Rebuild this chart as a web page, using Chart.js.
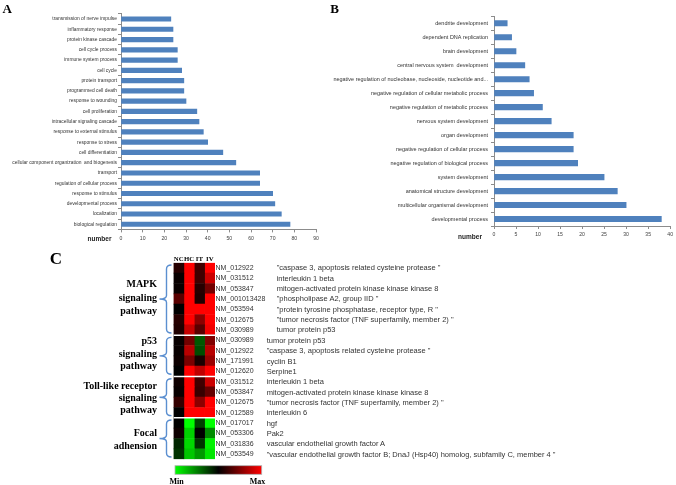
<!DOCTYPE html>
<html><head><meta charset="utf-8">
<script src="https://cdn.jsdelivr.net/npm/chart.js@4.4.1/dist/chart.umd.min.js"></script>
<style>
html,body{margin:0;padding:0;background:#fff;}
#wrap{position:relative;width:676px;height:485px;overflow:hidden;background:#fff;}
canvas{position:absolute;}
.t{position:absolute;white-space:nowrap;}
</style></head><body>
<div id="wrap">
<canvas id="cA" width="330" height="250" style="left:0;top:0"></canvas>
<canvas id="cB" width="346" height="250" style="left:330px;top:0"></canvas>
<canvas id="cC" width="676" height="235" style="left:0;top:250px"></canvas>
</div>
<script>
// ---------- DATA ----------
const catsA = ['transmission of nerve impulse','inflammatory response','protein kinase cascade','cell cycle process','immune system process','cell cycle','protein transport','programmed cell death','response to wounding','cell proliferation','intracellular signaling cascade','response to external stimulus','response to stress','cell differentiation','cellular component organization  and biogenesis','transport','regulation of cellular process','response to stimulus','developmental process','localization','biological regulation'];
const valsA = [23,24,24,26,26,28,29,29,30,35,36,38,40,47,53,64,64,70,71,74,78];
const ticksA = [0,10,20,30,40,50,60,70,80,90];

const catsB = ['dendrite development','dependent DNA replication','brain development','central nervous system  development','negative regulation of nucleobase, nucleoside, nucleotide and...','negative regulation of cellular metabolic process','negative regulation of metabolic process','nervous system development','organ development','negative regulation of cellular process','negative regulation of biological process','system development','anatomical structure development','multicellular organismal development','developmental process'];
const valsB = [3,4,5,7,8,9,11,13,18,18,19,25,28,30,38];
const ticksB = [0,5,10,15,20,25,30,35,40];

const heatCols = ['NC','HC','IT','IV'];
const geneIds = ['NM_012922','NM_031512','NM_053847','NM_001013428','NM_053594','NM_012675','NM_030989',
  'NM_030989','NM_012922','NM_171991','NM_012620',
  'NM_031512','NM_053847','NM_012675','NM_012589',
  'NM_017017','NM_053306','NM_031836','NM_053549'];
const geneDesc = ['"caspase 3, apoptosis related cysteine protease "','interleukin 1 beta','mitogen-activated protein kinase kinase kinase 8','"phospholipase A2, group IID "','"protein tyrosine phosphatase, receptor type, R "','"tumor necrosis factor (TNF superfamily, member 2) "','tumor protein p53',
  'tumor protein p53','"caspase 3, apoptosis related cysteine protease "','cyclin B1','Serpine1',
  'interleukin 1 beta','mitogen-activated protein kinase kinase kinase 8','"tumor necrosis factor (TNF superfamily, member 2) "','interleukin 6',
  'hgf','Pak2','vascular endothelial growth factor A','"vascular endothelial growth factor B; DnaJ (Hsp40) homolog, subfamily C, member 4 "'];
const groupNames = [['MAPK','signaling','pathway'],['p53','signaling','pathway'],['Toll-like receptor','signaling','pathway'],['Focal','adhension']];
const groupSizes = [7,4,4,4];
const heatNC = [0.15,0.03,0.03,0.35,0.0,0.15,0.12, 0.03,0.03,0.05,0.0, 0.06,0.03,0.2,0.0, 0.0,0.05,-0.15,-0.2];
const heatHC = [1,1,1,1,1,1,0.78, 0.45,0.72,0.48,1, 1,1,1,1, -1,-0.82,-0.85,-0.78];
const heatIT = [0.25,0.25,0.15,0.12,1,0.55,0.35, -0.35,-0.3,0.1,0.75, 0.25,0.22,0.55,1, -0.25,0.0,-0.2,-0.6];
const heatIV = [1,0.8,0.45,1,1,1,0.95, 0.5,0.72,0.6,1, 0.8,0.4,1,1, -1,-0.55,-0.95,-0.9];

// ---------- helpers ----------
const FAM = '"Liberation Sans Narrow", "Liberation Sans", Arial, sans-serif';
const mctx = document.createElement('canvas').getContext('2d');
function fitSize(text, target, fam, weight){
  mctx.font = (weight||'normal') + ' 100px ' + fam;
  return 100 * target / mctx.measureText(text).width;
}
const wrap = document.getElementById('wrap');
function addText(txt, x, y, o){
  const d = document.createElement('div');
  d.className = 't';
  d.textContent = txt;
  const size = o.size;
  d.style.font = (o.weight||'normal') + ' ' + size + 'px ' + o.fam;
  d.style.lineHeight = (size*1.2) + 'px';
  d.style.height = (size*1.2) + 'px';
  d.style.top = (y - size*0.6) + 'px';
  d.style.color = o.color || '#000';
  if (o.align === 'right') { d.style.right = (676 - x) + 'px'; d.style.textAlign = 'right'; }
  else if (o.align === 'center') { d.style.left = (x - 200) + 'px'; d.style.width = '400px'; d.style.textAlign = 'center'; }
  else d.style.left = x + 'px';
  wrap.appendChild(d);
  return d;
}
const SERIF = '"Liberation Serif","Times New Roman",serif';
const SANS = '"Liberation Sans", Arial, sans-serif';

const sizeA = fitSize(catsA[14], 105, FAM);
const sizeB = fitSize(catsB[4], 155, FAM);
const tickSizeA = fitSize('10', 5.7, FAM);

function barChart(id, cats, vals, ticks, cfg){
  return new Chart(document.getElementById(id), {
    type: 'bar',
    data: { labels: cats, datasets: [{ data: vals, backgroundColor: '#4f81bd', borderWidth: 0, barThickness: cfg.thick }] },
    options: {
      indexAxis: 'y', responsive: false, animation: false, events: [],
      plugins: { legend: { display: false }, tooltip: { enabled: false } },
      layout: { padding: { top: cfg.top, right: cfg.right, left: 0, bottom: 0 } },
      scales: {
        x: { type: 'linear', min: ticks[0], max: ticks[ticks.length-1],
             afterBuildTicks: s => { s.ticks = ticks.map(v => ({ value: v })); },
             ticks: { padding: cfg.tpad, font: { family: FAM, size: tickSizeA }, color: '#404040', maxRotation: 0, autoSkip: false },
             grid: { drawOnChartArea: false, tickLength: 3, color: '#8c8c8c' },
             border: { color: '#8c8c8c' },
             afterFit: s => { s.height = cfg.xh; } },
        y: { ticks: { autoSkip: false, padding: cfg.lpad, font: { family: FAM, size: cfg.lsize }, color: '#333' },
             grid: { drawOnChartArea: false, tickLength: 3, color: '#8c8c8c' },
             border: { color: '#8c8c8c' },
             afterFit: s => { s.width = cfg.yw; } }
      }
    }
  });
}

barChart('cA', catsA, valsA, ticksA, { thick: 4.5, top: 13.9, right: 14, xh: 20.6, yw: 121, tpad: 3.5, lpad: 1, lsize: sizeA });
barChart('cB', catsB, valsB, ticksB, { thick: 5.5, top: 16.3, right: 5.3, xh: 24, yw: 164, tpad: 3, lpad: 3, lsize: sizeB });

// ---------- heatmap ----------
function heat(v){
  return v >= 0 ? 'rgb(' + Math.round(255*v) + ',0,0)' : 'rgb(0,' + Math.round(-255*v) + ',0)';
}
const heatVals = [heatNC, heatHC, heatIT, heatIV];

const decoPlugin = {
  id: 'deco',
  afterDraw(chart){
    const ctx = chart.ctx, y = chart.scales.y, ca = chart.chartArea;
    const half = Math.abs(y.getPixelForValue(1) - y.getPixelForValue(0)) / 2;
    ctx.save();
    ctx.strokeStyle = '#ffffff'; ctx.lineWidth = 1.5;
    let idx = 0;
    groupSizes.forEach((n, g) => {
      const top = y.getPixelForValue(idx) - half;
      if (g > 0) { ctx.beginPath(); ctx.moveTo(ca.left, top); ctx.lineTo(ca.right, top); ctx.stroke(); }
      idx += n;
    });
    ctx.strokeStyle = '#5b8fd0'; ctx.lineWidth = 1.4;
    idx = 0;
    const xv = 166.5, xs = 171.5, xt = 159.5;
    groupSizes.forEach(n => {
      const t = y.getPixelForValue(idx) - half + 2.2, b = y.getPixelForValue(idx + n - 1) + half - 2.2, m = (t + b) / 2;
      ctx.beginPath();
      ctx.moveTo(xs, t);
      ctx.quadraticCurveTo(xv, t, xv, t + 4);
      ctx.lineTo(xv, m - 3.5);
      ctx.quadraticCurveTo(xv, m, xt, m);
      ctx.quadraticCurveTo(xv, m, xv, m + 3.5);
      ctx.lineTo(xv, b - 4);
      ctx.quadraticCurveTo(xv, b, xs, b);
      ctx.stroke();
      idx += n;
    });
    const gx0 = 175, gx1 = 261.7, gy0 = 215.7, gy1 = 224.3;
    const gr = ctx.createLinearGradient(gx0, 0, gx1, 0);
    gr.addColorStop(0, '#00ff00'); gr.addColorStop(0.5, '#000000'); gr.addColorStop(1, '#ff0000');
    ctx.fillStyle = gr; ctx.fillRect(gx0, gy0, gx1 - gx0, gy1 - gy0);
    ctx.strokeStyle = '#b0b0b0'; ctx.lineWidth = 0.8; ctx.strokeRect(gx0, gy0, gx1 - gx0, gy1 - gy0);
    ctx.restore();
  }
};

const cC = new Chart(document.getElementById('cC'), {
  type: 'bar',
  data: { labels: geneIds, datasets: heatVals.map((vals, i) => ({
    label: heatCols[i], data: vals.map(() => 1), backgroundColor: vals.map(heat),
    borderWidth: 0, barPercentage: 1, categoryPercentage: 1 })) },
  options: {
    indexAxis: 'y', responsive: false, animation: false, events: [],
    plugins: { legend: { display: false }, tooltip: { enabled: false } },
    layout: { padding: { left: 173.5, top: 12.8, bottom: 25.8, right: 0 } },
    scales: {
      x: { type: 'linear', stacked: true, min: 0, max: heatCols.length, display: false },
      y: { type: 'category', position: 'right', stacked: true,
           grid: { display: false, drawTicks: false }, border: { display: false },
           ticks: { autoSkip: false, padding: 0.5, font: { family: SANS, size: 7 }, color: '#333' },
           afterFit: s => { s.width = 461; } }
    }
  },
  plugins: [decoPlugin]
});

// column headers over the heatmap columns
heatCols.forEach((c, i) => {
  addText(c, cC.scales.x.getPixelForValue(i + 0.5), 259.5, { size: 6.8, fam: SERIF, weight: 'bold', align: 'center' });
});

// descriptions
geneDesc.forEach((d, i) => {
  const py = cC.scales.y.getPixelForValue(i) + 250;
  addText(d, i < groupSizes[0] ? 276.7 : 266.7, py, { size: 7.5, fam: SANS, color: '#333' });
});

// group names
const groupLineY = [[284, 297.5, 310.5], [341, 353.5, 366], [385.7, 397.7, 410], [433.3, 445.7]];
groupNames.forEach((lines, g) => lines.forEach((ln, k) => {
  addText(ln, 157, groupLineY[g][k], { size: 10, fam: SERIF, weight: 'bold', align: 'right' });
}));

addText('A', 7.3, 8.4, { size: 13, fam: SERIF, weight: 'bold', align: 'center' });
addText('B', 334.5, 8.4, { size: 13, fam: SERIF, weight: 'bold', align: 'center' });
addText('C', 56, 259.2, { size: 17, fam: SERIF, weight: 'bold', align: 'center' });
addText('number', 99.5, 239, { size: 6.5, fam: SANS, weight: 'bold', align: 'center', color: '#222' });
addText('number', 470, 237.3, { size: 6.5, fam: SANS, weight: 'bold', align: 'center', color: '#222' });
addText('Min', 176.5, 481.7, { size: 8, fam: SERIF, weight: 'bold', align: 'center' });
addText('Max', 257.5, 481.7, { size: 8, fam: SERIF, weight: 'bold', align: 'center' });
</script>
</body></html>
